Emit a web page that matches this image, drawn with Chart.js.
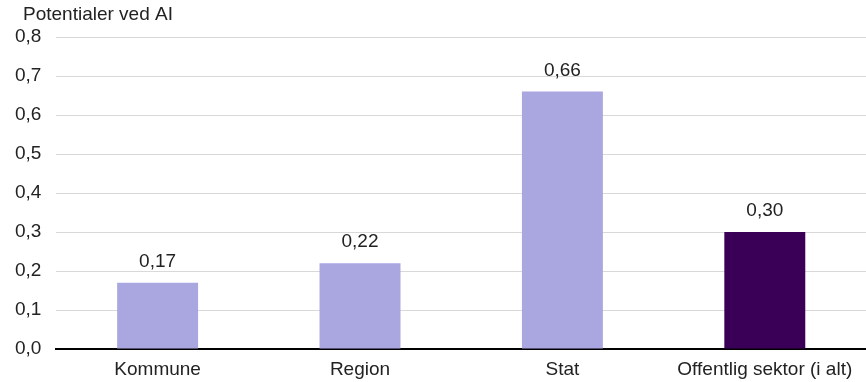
<!DOCTYPE html>
<html>
<head>
<meta charset="utf-8">
<script src="https://cdn.jsdelivr.net/npm/chart.js@4"></script>
<style>
  html, body { margin: 0; padding: 0; background: #fff; }
  #wrap { width: 866px; height: 382px; }
</style>
</head>
<body>
<div id="wrap"><canvas id="c"></canvas></div>
<script>
const categories = ['Kommune', 'Region', 'Stat', 'Offentlig sektor (i alt)'];
const potentials = [0.17, 0.22, 0.66, 0.30];
const barColors = ['#A9A6E0', '#A9A6E0', '#A9A6E0', '#3A0058'];
const yTicks = [0, 0.1, 0.2, 0.3, 0.4, 0.5, 0.6, 0.7, 0.8];
const axisTitle = 'Potentialer ved AI';

const fmt = (v, d) => v.toFixed(d).replace('.', ',');
const FONT = '"Liberation Sans", Arial, sans-serif';
const TEXT = '#222';

// Axis caption in the top-left corner, above the value axis
const cornerTitle = {
  id: 'cornerTitle',
  afterDraw(chart) {
    const ctx = chart.ctx;
    ctx.save();
    ctx.font = '19px ' + FONT;
    ctx.fillStyle = TEXT;
    ctx.textAlign = 'left';
    ctx.textBaseline = 'middle';
    ctx.fillText(axisTitle, 23, 15);
    ctx.restore();
  }
};

// Writes each bar's value above it, Danish decimal comma
const valueLabels = {
  id: 'valueLabels',
  afterDatasetsDraw(chart) {
    const ctx = chart.ctx;
    const meta = chart.getDatasetMeta(0);
    ctx.save();
    ctx.font = '19px ' + FONT;
    ctx.fillStyle = TEXT;
    ctx.textAlign = 'center';
    ctx.textBaseline = 'middle';
    meta.data.forEach((bar, i) => {
      ctx.fillText(fmt(potentials[i], 2), bar.x, bar.y - 21);
    });
    ctx.restore();
  }
};

Chart.defaults.font.family = FONT;
Chart.defaults.font.size = 19;
Chart.defaults.color = TEXT;

new Chart(document.getElementById('c'), {
  type: 'bar',
  data: {
    labels: categories,
    datasets: [{
      data: potentials,
      backgroundColor: barColors,
      borderWidth: 0,
      barPercentage: 0.4,
      categoryPercentage: 1.0
    }]
  },
  options: {
    responsive: true,
    maintainAspectRatio: false,
    animation: false,
    layout: { padding: { left: 0, right: 0, top: 37, bottom: 0 } },
    plugins: {
      legend: { display: false },
      tooltip: { enabled: false },
      title: { display: false }
    },
    scales: {
      x: {
        grid: { display: false },
        border: { color: '#000', width: 2 },
        ticks: { padding: 3, font: { size: 19, lineHeight: 1.0 }, color: TEXT }
      },
      y: {
        min: 0,
        max: 0.8,
        afterBuildTicks(axis) { axis.ticks = yTicks.map(v => ({ value: v })); },
        grid: { color: '#d9d9d9', lineWidth: 1, drawTicks: false },
        border: { display: false },
        ticks: {
          padding: 15,
          font: { size: 19 },
          color: TEXT,
          callback: v => fmt(v, 1)
        }
      }
    }
  },
  plugins: [valueLabels, cornerTitle]
});
</script>
</body>
</html>
